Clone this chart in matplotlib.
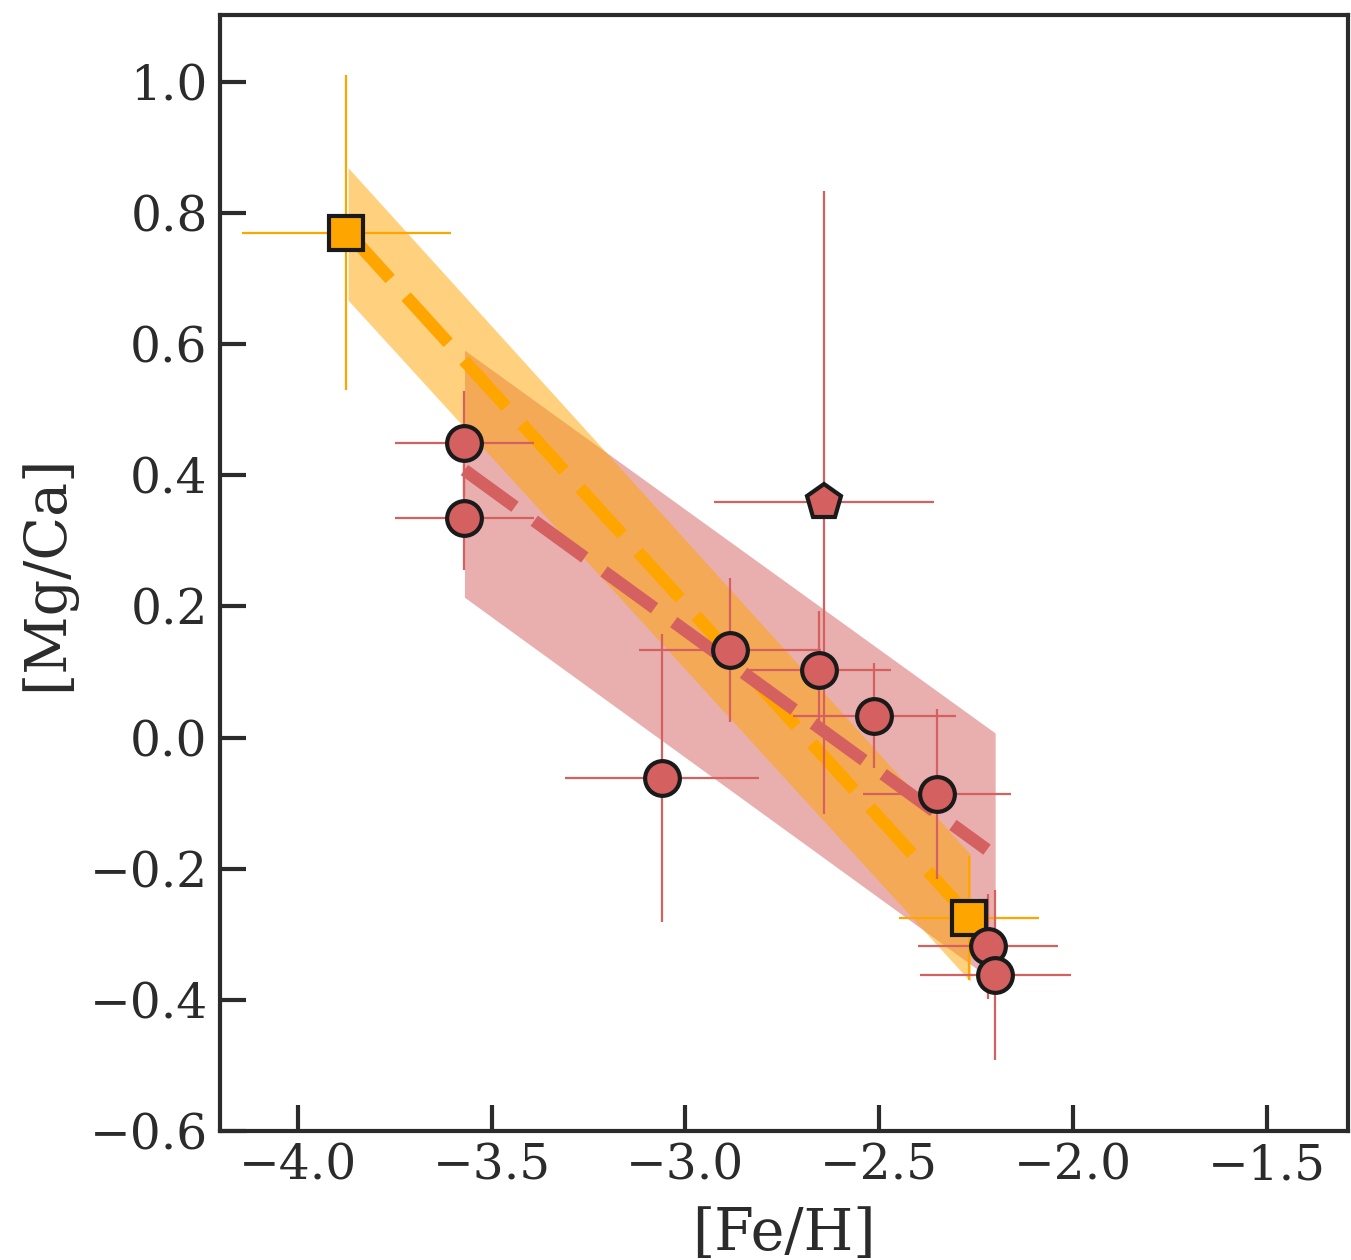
import matplotlib
matplotlib.use("Agg")
import matplotlib.pyplot as plt
import numpy as np

# ---- data ----
# red circles
circ_feh = [-3.57, -3.57, -3.06, -2.885, -2.655, -2.513, -2.351, -2.219, -2.201]
circ_mgca = [0.449, 0.335, -0.062, 0.134, 0.103, 0.033, -0.086, -0.318, -0.362]
circ_xerr = [0.18, 0.18, 0.25, 0.235, 0.185, 0.21, 0.19, 0.18, 0.195]
circ_yerr = [0.08, 0.08, 0.22, 0.11, 0.09, 0.08, 0.13, 0.08, 0.13]

# red pentagon
pent_feh = [-2.642]
pent_mgca = [0.359]
pent_xerr = [0.283]
pent_yerr = [0.475]

# orange squares
sq_feh = [-3.875, -2.268]
sq_mgca = [0.77, -0.275]
sq_xerr = [0.27, 0.18]
sq_yerr = [0.24, 0.095]

# orange fit line and band
or_fit_x = [-3.87, -2.265]
or_fit_y = [0.77, -0.275]
or_band_lo = [0.667, -0.372]
or_band_hi = [0.869, -0.178]

# red fit line and band
red_fit_x = [-3.57, -2.222]
red_fit_y = [0.408, -0.171]
red_band_x = [-3.57, -2.201]
red_band_lo = [0.214, -0.373]
red_band_hi = [0.591, 0.007]

xticks = [-4.0, -3.5, -3.0, -2.5, -2.0, -1.5]
yticks = [-0.6, -0.4, -0.2, 0.0, 0.2, 0.4, 0.6, 0.8, 1.0]

RED = "#d46060"
ORANGE = "#ffa500"
DARK = "#2b2b2b"

plt.rcParams['font.family'] = ['DejaVu Serif']
plt.rcParams['mathtext.fontset'] = 'dejavuserif'

fig = plt.figure(figsize=(13.51, 12.60), dpi=100)
ax = fig.add_axes([0.163, 0.1024, 0.835, 0.8857])

ax.fill_between(red_band_x, red_band_lo, red_band_hi, color=RED, alpha=0.5,
                lw=0, zorder=1)
ax.fill_between(or_fit_x, or_band_lo, or_band_hi, color=ORANGE, alpha=0.5,
                lw=0, zorder=2)
l1, = ax.plot(or_fit_x, or_fit_y, color=ORANGE, lw=9, zorder=3,
              solid_capstyle='butt')
l1.set_dashes((5.0, 1.9))
l1.set_dash_capstyle('butt')
l2, = ax.plot(red_fit_x, red_fit_y, color=RED, lw=9, zorder=4)
l2.set_dashes((5.0, 1.9))
l2.set_dash_capstyle('butt')

ax.errorbar(sq_feh, sq_mgca, xerr=sq_xerr, yerr=sq_yerr, fmt='none',
            ecolor=ORANGE, elinewidth=1.6, capsize=0, zorder=5)
ax.errorbar(circ_feh, circ_mgca, xerr=circ_xerr, yerr=circ_yerr, fmt='none',
            ecolor=RED, elinewidth=1.6, capsize=0, zorder=5)
ax.errorbar(pent_feh, pent_mgca, xerr=pent_xerr, yerr=pent_yerr, fmt='none',
            ecolor=RED, elinewidth=1.6, capsize=0, zorder=5)

ax.plot(sq_feh, sq_mgca, 's', ms=25, mfc=ORANGE, mec='#1a1a1a', mew=3,
        zorder=6)
ax.plot(circ_feh, circ_mgca, 'o', ms=25, mfc=RED, mec='#1a1a1a', mew=3,
        zorder=7)
ax.plot(pent_feh, pent_mgca, 'p', ms=26, mfc=RED, mec='#1a1a1a', mew=3,
        zorder=7)

ax.set_xlim(-4.2, -1.29)
ax.set_ylim(-0.6, 1.102)
ax.set_xticks(xticks)
ax.set_yticks(yticks)
ax.set_xticklabels([f"\u2212{abs(v):.1f}" if v < 0 else f"{v:.1f}" for v in xticks])
ax.set_yticklabels([f"\u2212{abs(v):.1f}" if v < 0 else f"{v:.1f}" for v in yticks])

ax.tick_params(direction='in', length=19, width=3, colors=DARK,
               labelsize=35, pad=9, top=False, right=False)
ax.tick_params(axis='x', pad=8)
for sp in ax.spines.values():
    sp.set_linewidth(3)
    sp.set_color(DARK)

ax.set_xlabel("[Fe/H]", fontsize=41, color=DARK, labelpad=12)
ax.set_ylabel("[Mg/Ca]", fontsize=41, color=DARK, labelpad=10)

fig.savefig("out.png", dpi=100)
